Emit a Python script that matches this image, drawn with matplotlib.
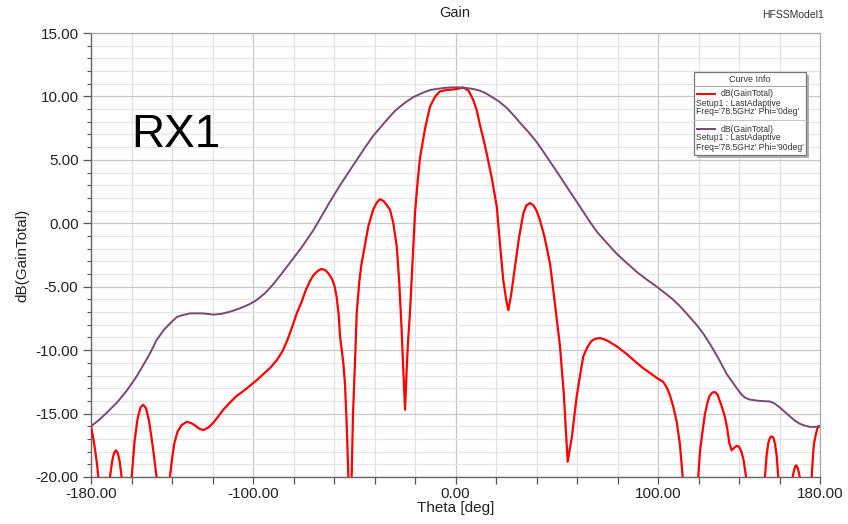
import matplotlib
matplotlib.use("Agg")
import matplotlib.pyplot as plt
from matplotlib.lines import Line2D
from matplotlib.patches import Rectangle
from matplotlib.ticker import MultipleLocator, FixedLocator, FixedFormatter

plt.rcParams['font.family'] = ['Liberation Sans', 'DejaVu Sans']

# Phi = 90 deg (purple): (theta, gain dB)
phi90_points = [
    (-180, -16.0), (-176, -15.5), (-172, -14.9), (-167, -14.1), (-162.4, -13.2),
    (-158, -12.2), (-155, -11.4), (-151, -10.3), (-147.6, -9.2), (-144, -8.4),
    (-141, -7.9), (-139, -7.6), (-137.7, -7.4), (-135, -7.25), (-131, -7.1),
    (-128, -7.1), (-125, -7.1), (-122, -7.15), (-119.6, -7.2), (-116, -7.15),
    (-112, -7.0), (-109, -6.85), (-106.4, -6.7), (-102, -6.4), (-98.2, -6.05),
    (-94, -5.5), (-90, -4.8), (-86, -4.0), (-81.7, -3.1), (-76, -1.9), (-70, -0.5),
    (-66, 0.6), (-62, 1.7), (-57, 3.0), (-50, 4.7), (-45, 5.9), (-40.6, 6.9),
    (-35, 7.95), (-30, 8.85), (-25, 9.5), (-20.8, 9.95), (-16, 10.3), (-12.6, 10.5),
    (-9, 10.6), (-6, 10.66), (-3, 10.7), (0.6, 10.72), (3, 10.7), (6, 10.65),
    (9, 10.58), (12.1, 10.45), (15, 10.25), (18, 9.95), (21.5, 9.6), (25.3, 9.1),
    (28.5, 8.55), (32, 7.9), (36, 7.2), (40.1, 6.4), (44, 5.5), (48, 4.55),
    (52, 3.6), (56.5, 2.5), (61.5, 1.3), (66, 0.2), (70, -0.7), (75, -1.6),
    (79.6, -2.4), (84, -3.05), (90, -3.9), (95, -4.5), (99.4, -5.0), (103, -5.45),
    (107, -5.95), (110.9, -6.55), (113.5, -7.0), (116, -7.45), (119, -8.0),
    (122.4, -8.7), (126, -9.6), (130, -10.7), (134, -11.9), (138.9, -13.0),
    (141, -13.45), (143, -13.75), (145.4, -13.9), (150, -14.0), (155.3, -14.05),
    (157.5, -14.2), (160, -14.5), (162.5, -14.85), (165, -15.2), (167.5, -15.55),
    (170, -15.8), (172.5, -15.95), (175, -16.05), (177.5, -16.05), (180, -16.05),
]

# Phi = 0 deg (red): (theta, gain dB); values below -20 are outside the view
phi0_points = [
    (-180, -16.0), (-178.5, -17.3), (-177, -19.0), (-176.4, -20.0), (-174, -23.0),
    (-170.6, -20.0), (-169.6, -18.8), (-168.6, -18.1), (-167.7, -17.9), (-166.8, -18.1),
    (-165.8, -18.8), (-164.9, -20.0), (-162, -24.0), (-159.9, -20.0), (-158.5, -17.2),
    (-157, -15.4), (-155.5, -14.5), (-154.2, -14.3), (-152.8, -14.6), (-151.3, -15.6),
    (-149.5, -17.6), (-147.6, -20.0), (-144, -24.0), (-141, -20.0), (-140, -18.6),
    (-138.8, -17.3), (-137.2, -16.4), (-135.2, -15.9), (-132.7, -15.65), (-130.5, -15.75),
    (-128.5, -15.95), (-126.5, -16.2), (-124.5, -16.3), (-122, -16.1), (-119.5, -15.7),
    (-117, -15.2), (-114.7, -14.7), (-111.5, -14.15), (-108, -13.6), (-104.5, -13.2),
    (-101.5, -12.8), (-98, -12.35), (-95, -11.9), (-91.5, -11.4), (-88.3, -10.8),
    (-85.5, -10.1), (-83, -9.2), (-80.5, -8.1), (-78.4, -7.1), (-76, -6.2), (-74, -5.3),
    (-72, -4.6), (-70.2, -4.1), (-68, -3.75), (-66.1, -3.6), (-64.2, -3.7), (-62.5, -4.0),
    (-61, -4.4), (-59.8, -4.9), (-58.7, -5.8), (-57.7, -7.2), (-57, -8.95), (-56.2, -10.0),
    (-55.4, -11.0), (-54.6, -12.6), (-53.8, -15.5), (-52.9, -20.0), (-52, -22.0),
    (-51.3, -20.0), (-50.6, -15.0), (-50, -12.5), (-49.3, -9.5), (-48.8, -7.1),
    (-47.5, -4.6), (-46.5, -3.3), (-45.5, -2.4), (-43, -0.2), (-40.6, 1.1), (-39, 1.6),
    (-37.3, 1.9), (-35.5, 1.75), (-33.8, 1.4), (-32.3, 1.05), (-30.7, 0.0), (-29.0, -1.85),
    (-27.8, -4.6), (-26.6, -8.4), (-25.8, -11.5), (-24.9, -14.7), (-24.1, -11.5),
    (-23.4, -9.2), (-22.5, -7.1), (-21.2, -3.0), (-20, 0.8), (-18.7, 3.3), (-17.5, 5.2),
    (-15, 7.5), (-12.6, 9.2), (-10, 10.0), (-7.7, 10.4), (-4.5, 10.5), (-1.1, 10.55),
    (1.5, 10.62), (3.9, 10.7), (6.5, 10.45), (8.8, 9.7), (10.5, 8.9), (12, 7.8),
    (13.7, 6.7), (15.4, 5.5), (18, 3.5), (20.4, 1.3), (22, -1.7), (23.6, -4.5),
    (25, -6.0), (26.1, -6.85), (27.5, -5.6), (29.4, -3.4), (31.3, -1.2), (33.5, 0.8),
    (35, 1.4), (36.8, 1.6), (38.5, 1.4), (40, 1.0), (41.7, 0.25), (44, -1.1),
    (46.7, -3.2), (49, -6.2), (51.6, -9.7), (53.5, -13.5), (55.4, -18.8), (57.5, -16.8),
    (59.8, -13.7), (61.5, -12.0), (63.1, -10.5), (65, -9.8), (67, -9.3), (69, -9.1),
    (71.4, -9.05), (73.5, -9.15), (75.5, -9.3), (77.5, -9.5), (79.6, -9.7), (82, -10.0),
    (84.5, -10.3), (87, -10.65), (89.5, -11.0), (92.5, -11.4), (96, -11.8), (99.5, -12.2),
    (102.6, -12.5), (104.5, -13.0), (106, -13.6), (107.6, -14.5), (109.2, -15.6),
    (110.8, -17.4), (112.2, -20.0), (113.5, -24.0), (117, -24.0), (119.9, -20.0),
    (120.7, -18.0), (121.5, -17.0), (123.2, -15.0), (124.5, -14.1), (125.5, -13.6),
    (126.8, -13.35), (128.1, -13.3), (129.4, -13.5), (130.5, -14.0), (131.8, -14.6),
    (133.1, -15.3), (134.2, -16.2), (135.2, -17.3), (136.4, -17.9), (137.6, -17.7),
    (138.8, -17.55), (140, -17.6), (141.2, -18.0), (142.3, -18.7), (143.5, -20.0),
    (145.4, -24.0), (149, -24.0), (152.8, -20.0), (153.7, -18.2), (154.5, -17.3),
    (155.3, -16.9), (156.1, -16.8), (157, -16.9), (157.8, -17.4), (158.6, -18.3),
    (159.4, -20.0), (163, -24.0), (166.5, -20.0), (167, -19.6), (167.5, -19.3),
    (168, -19.1), (168.5, -19.1), (169, -19.3), (169.5, -19.6), (170, -20.0),
    (173, -24.0), (175.9, -20.0), (176.5, -18.4), (177, -17.4), (178, -16.6),
    (179, -16.0), (180, -16.0),
]

theta_90 = [p[0] for p in phi90_points]
gain_90 = [p[1] for p in phi90_points]
theta_0 = [p[0] for p in phi0_points]
gain_0 = [p[1] for p in phi0_points]

xtick_vals = list(range(-180, 181, 20))
xtick_labels = ['-180.00' if v == -180 else '-100.00' if v == -100 else '0.00' if v == 0
                else '100.00' if v == 100 else '180.00' if v == 180 else '' for v in xtick_vals]

W, H = 848, 524
fig = plt.figure(figsize=(W / 100, H / 100), dpi=100)
fig.patch.set_facecolor('white')

L, R, T, B = 91, 820, 33, 477
ax = fig.add_axes([L / W, 1 - B / H, (R - L) / W, (B - T) / H])

red = '#ff0000'
purple = '#7a4a6e'

ax.plot(theta_0, gain_0, color=red, lw=1.6, zorder=3, clip_on=True,
        solid_joinstyle='round')
ax.plot(theta_90, gain_90, color=purple, lw=1.4, zorder=3, clip_on=True,
        solid_joinstyle='round')

ax.set_xlim(-180, 180)
ax.set_ylim(-20, 15)

ax.xaxis.set_major_locator(FixedLocator(xtick_vals))
ax.xaxis.set_major_formatter(FixedFormatter(xtick_labels))
ax.yaxis.set_major_locator(MultipleLocator(5))
ax.yaxis.set_minor_locator(MultipleLocator(1))
ax.yaxis.set_major_formatter(matplotlib.ticker.FuncFormatter(lambda v, p: f'{v:.2f}'))

# grids
for v in xtick_vals:
    c = '#c8c8c8' if v in (-100, 0, 100) else '#e2e2e2'
    ax.axvline(v, color=c, lw=0.9, zorder=1)
for v in range(-20, 16):
    c = '#c8c8c8' if v % 5 == 0 else '#e6e6e6'
    ax.axhline(v, color=c, lw=0.9, zorder=1)

ax.tick_params(axis='both', direction='out', colors='#555555', labelcolor='#222222',
               labelsize=11)
ax.tick_params(axis='x', length=5, width=0.9, pad=2)
ax.tick_params(axis='y', which='major', length=6, width=0.9, pad=3)
ax.tick_params(axis='y', which='minor', length=3, width=0.8, color='#555555')

for s in ['left', 'bottom']:
    ax.spines[s].set_color('#666666')
    ax.spines[s].set_linewidth(1.0)
for s in ['top', 'right']:
    ax.spines[s].set_color('#aaaaaa')
    ax.spines[s].set_linewidth(0.9)

ax.set_xlabel('Theta [deg]', fontsize=11, color='#222222', labelpad=0)
ax.set_ylabel('dB(GainTotal)', fontsize=11, color='#222222', labelpad=4)

fig.text(455 / W, 1 - 13 / H, 'Gain', ha='center', va='center', fontsize=10.5, color='#222222')
fig.text(793 / W, 1 - 15 / H, 'HFSSModel1', ha='center', va='center', fontsize=7.5, color='#333333')

ax.text(131 / W, 1 - 147 / H, 'RX1', transform=fig.transFigure, ha='left', va='baseline',
        fontsize=33, color='black', zorder=6)

# Curve Info box
def fx(px):
    return px / W

def fy(py):
    return 1 - py / H

bx0, bx1, by0, by1 = 694, 806, 72, 155
fig.patches.append(Rectangle((fx(bx0 + 3), fy(by1 + 3)), fx(bx1 - bx0), (by1 - by0) / H,
                             transform=fig.transFigure, facecolor='#b0b0b0', edgecolor='none',
                             zorder=9))
fig.patches.append(Rectangle((fx(bx0), fy(by1)), fx(bx1 - bx0), (by1 - by0) / H,
                             transform=fig.transFigure, facecolor='white', edgecolor='#777777',
                             lw=0.9, zorder=10))
fig.lines.append(Line2D([fx(bx0), fx(bx1)], [fy(86), fy(86)], transform=fig.transFigure,
                        color='#999999', lw=0.6, zorder=11))
fig.lines.append(Line2D([fx(bx0), fx(bx1)], [fy(120), fy(120)], transform=fig.transFigure,
                        color='#bbbbbb', lw=0.6, zorder=11))
fig.text(fx(750), fy(79), 'Curve Info', ha='center', va='center', fontsize=6.4,
         color='#333333', zorder=12)
fs = 6.2
entries = [(red, 94, "Freq='78.5GHz' Phi='0deg'"), (purple, 129, "Freq='78.5GHz' Phi='90deg'")]
for col, y0, ftxt in entries:
    fig.lines.append(Line2D([fx(697), fx(715)], [fy(y0), fy(y0)], transform=fig.transFigure,
                            color=col, lw=1.4, zorder=12))
    fig.text(fx(721), fy(y0), 'dB(GainTotal)', ha='left', va='center', fontsize=fs,
             color='#333333', zorder=12)
    fig.text(fx(696), fy(y0 + 9), 'Setup1 : LastAdaptive', ha='left', va='center', fontsize=fs,
             color='#333333', zorder=12)
    fig.text(fx(696), fy(y0 + 18), ftxt, ha='left', va='center', fontsize=fs,
             color='#333333', zorder=12)

fig.savefig('out.png', dpi=100)
